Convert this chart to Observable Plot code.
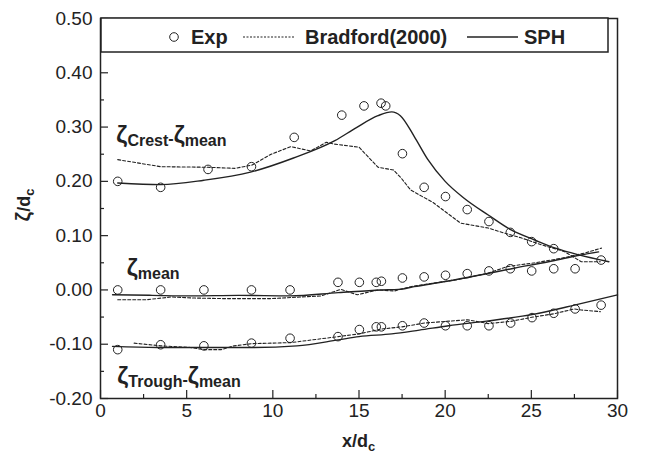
<!DOCTYPE html>
<html><head><meta charset="utf-8">
<script src="https://cdn.jsdelivr.net/npm/d3@7"></script>
<script src="https://cdn.jsdelivr.net/npm/@observablehq/plot@0.6"></script>
<style>body{margin:0;background:#fff}svg{display:block}</style>
</head><body><div id="chart"></div>
<script>
// ---- tick labels ----
const xTicks = [0, 5, 10, 15, 20, 25, 30];
const yTicks = [-0.2, -0.1, 0, 0.1, 0.2, 0.3, 0.4, 0.5];
const xMinor = [2.5, 7.5, 12.5, 17.5, 22.5, 27.5];
const yMinor = [-0.15, -0.05, 0.05, 0.15, 0.25, 0.35, 0.45];

// ---- experiment (circles) ----
const expCrestX = [1.0, 3.49, 6.24, 8.76, 11.24, 14.0, 15.29, 16.28, 16.55, 17.52, 18.78, 20.02, 21.28, 22.54, 23.78, 25.02, 26.3, 29.05];
const expCrestY = [0.200, 0.189, 0.222, 0.227, 0.281, 0.322, 0.339, 0.344, 0.339, 0.251, 0.189, 0.172, 0.148, 0.126, 0.106, 0.089, 0.076, 0.055];
const expMeanX = [1.0, 3.49, 6.0, 8.76, 11.0, 13.78, 15.02, 16.0, 16.3, 17.52, 18.78, 20.02, 21.28, 22.54, 23.78, 25.02, 26.3, 27.54];
const expMeanY = [0.000, 0.000, 0.000, 0.000, 0.000, 0.014, 0.014, 0.014, 0.016, 0.022, 0.024, 0.027, 0.030, 0.035, 0.039, 0.035, 0.039, 0.039];
const expTroughX = [1.0, 3.49, 6.0, 8.76, 11.0, 13.78, 15.02, 16.0, 16.3, 17.52, 18.78, 20.02, 21.28, 22.54, 23.8, 25.04, 26.3, 27.54, 29.05];
const expTroughY = [-0.110, -0.101, -0.103, -0.098, -0.089, -0.086, -0.073, -0.068, -0.068, -0.066, -0.061, -0.066, -0.066, -0.066, -0.061, -0.051, -0.043, -0.035, -0.028];

// ---- SPH (solid) ----
const sphCrestX = [1, 3.5, 6, 8.7, 11.2, 13.6, 14.8, 16.1, 16.9, 17.4, 18.2, 19.0, 20.0, 21.1, 22.5, 23.8, 25.2, 26.4, 27.7, 29.5];
const sphCrestY = [0.197, 0.194, 0.202, 0.217, 0.243, 0.275, 0.298, 0.321, 0.328, 0.321, 0.283, 0.240, 0.200, 0.169, 0.138, 0.111, 0.092, 0.077, 0.065, 0.052];
const sphMeanX = [0.7, 3, 5.2, 8, 11, 13.8, 16.3, 17.3, 18.2, 20.1, 22.1, 24.0, 26.0, 27.5, 28.9];
const sphMeanY = [-0.009, -0.010, -0.011, -0.010, -0.011, -0.005, 0.000, 0.001, 0.006, 0.016, 0.028, 0.040, 0.052, 0.062, 0.070];
const sphTroughX = [0.7, 3.3, 6, 8.7, 11.4, 13.8, 15.0, 16.9, 18.5, 20.2, 22.5, 25.1, 27.5, 30];
const sphTroughY = [-0.104, -0.106, -0.106, -0.106, -0.103, -0.092, -0.086, -0.081, -0.074, -0.066, -0.057, -0.045, -0.028, -0.009];

// ---- Bradford (2000) (dashed) ----
const brCrestX = [1, 3.5, 6.2, 7.8, 8.8, 9.9, 11.05, 12.2, 13.1, 13.5, 15.0, 16.1, 17.0, 17.45, 18.0, 19.3, 20.9, 22.5, 23.4, 24.4, 25.6, 26.9, 27.9, 29.0];
const brCrestY = [0.240, 0.227, 0.226, 0.224, 0.230, 0.250, 0.264, 0.256, 0.272, 0.269, 0.263, 0.226, 0.221, 0.206, 0.184, 0.161, 0.123, 0.114, 0.105, 0.096, 0.083, 0.071, 0.052, 0.052];
const brMeanX = [1, 2.7, 4.1, 5.5, 7.2, 9.9, 12.8, 13.95, 14.9, 16.1, 17.05, 18.0, 20.9, 22.5, 23.6, 25.2, 26.7, 28.1, 29.07];
const brMeanY = [-0.018, -0.018, -0.013, -0.015, -0.016, -0.016, -0.011, 0.001, -0.009, 0.000, -0.002, 0.006, 0.020, 0.031, 0.043, 0.050, 0.058, 0.068, 0.077];
const brTroughX = [1.95, 3.5, 5.2, 6.0, 7.0, 7.75, 8.8, 11.05, 13.8, 15.0, 16.3, 17.5, 18.8, 20.0, 21.3, 22.5, 23.8, 25.1, 26.3, 27.5, 27.9, 29.0];
const brTroughY = [-0.098, -0.103, -0.106, -0.110, -0.110, -0.103, -0.099, -0.097, -0.086, -0.081, -0.072, -0.068, -0.061, -0.058, -0.055, -0.062, -0.058, -0.050, -0.044, -0.035, -0.037, -0.040];

const legendLabels = ["Exp", "Bradford(2000)", "SPH"];

// ---- layout ----
const W = 647, H = 458, mL = 100, mR = 30, mT = 18, mB = 60;
const fw = W - mL - mR, fh = H - mT - mB;
const font = '"Liberation Sans", Arial, Helvetica, sans-serif';
const ink = "#222";

const pts = (xs, ys) => xs.map((x, i) => ({x, y: ys[i]}));
const solid = (xs, ys) => Plot.line(pts(xs, ys), {x: "x", y: "y", stroke: ink, strokeWidth: 1.4, curve: "monotone-x"});
const dashed = (xs, ys) => Plot.line(pts(xs, ys), {x: "x", y: "y", stroke: ink, strokeWidth: 1.1, strokeDasharray: "3,2"});
const dots = (xs, ys) => Plot.dot(pts(xs, ys), {x: "x", y: "y", r: 4.3, stroke: ink, strokeWidth: 1, fill: "none"});

const chart = Plot.plot({
  width: W, height: H, marginLeft: mL, marginRight: mR, marginTop: mT, marginBottom: mB,
  style: {fontFamily: font, background: "#fff", color: ink},
  x: {domain: [0, 30]},
  y: {domain: [-0.2, 0.5]},
  marks: [
    Plot.tickX(xTicks, {x: d => d, insetTop: fh - 8, stroke: ink, strokeWidth: 1.2}),
    Plot.tickX(xMinor, {x: d => d, insetTop: fh - 4, stroke: ink, strokeWidth: 1.2}),
    Plot.tickY(yTicks, {y: d => d, insetRight: fw - 8, stroke: ink, strokeWidth: 1.2}),
    Plot.tickY(yMinor, {y: d => d, insetRight: fw - 4, stroke: ink, strokeWidth: 1.2}),
    Plot.axisX(xTicks, {tickSize: 0, tickPadding: 5, fontSize: 19, label: null, tickFormat: d => String(d), fill: ink}),
    Plot.axisY(yTicks, {tickSize: 0, tickPadding: 8, fontSize: 19, label: null, tickFormat: d => d.toFixed(2), fill: ink}),
    dashed(brCrestX, brCrestY),
    dashed(brMeanX, brMeanY),
    dashed(brTroughX, brTroughY),
    solid(sphCrestX, sphCrestY),
    solid(sphMeanX, sphMeanY),
    solid(sphTroughX, sphTroughY),
    dots(expCrestX, expCrestY),
    dots(expMeanX, expMeanY),
    dots(expTroughX, expTroughY),
    Plot.frame({stroke: ink, strokeWidth: 1.5})
  ]
});
document.getElementById("chart").appendChild(chart);

const svg = d3.select(chart);
const sx = chart.scale("x"), sy = chart.scale("y");

// series annotations
function zetaLabel(px, py, sub) {
  const t = svg.append("text").attr("x", px).attr("y", py).attr("text-anchor", "start")
    .attr("font-family", font).attr("font-weight", "bold").attr("fill", ink);
  t.append("tspan").attr("font-size", 24).text("ζ");
  t.append("tspan").attr("font-size", 16).attr("dy", 3).text(sub);
  if (sub !== "mean") {
    t.append("tspan").attr("font-size", 16).attr("dy", -2).text("-");
    t.append("tspan").attr("font-size", 24).attr("dy", -1).text("ζ");
    t.append("tspan").attr("font-size", 16).attr("dy", 3).text("mean");
  }
}
zetaLabel(sx.apply(0.95), sy.apply(0.269), "Crest");
zetaLabel(sx.apply(1.55), sy.apply(0.024), "mean");
zetaLabel(sx.apply(1.0), sy.apply(-0.175), "Trough");

// axis titles
const xt = svg.append("text").attr("x", mL + fw / 2).attr("y", 447).attr("text-anchor", "middle")
  .attr("font-family", font).attr("font-weight", "bold").attr("font-size", 18).attr("fill", ink);
xt.append("tspan").text("x/d");
xt.append("tspan").attr("font-size", 13).attr("dy", 4).text("c");

const yt = svg.append("text").attr("transform", "translate(30,205) rotate(-90)").attr("text-anchor", "middle")
  .attr("font-family", font).attr("font-weight", "bold").attr("font-size", 18).attr("fill", ink);
yt.append("tspan").attr("font-size", 21).text("ζ");
yt.append("tspan").text("/d");
yt.append("tspan").attr("font-size", 13).attr("dy", 4).text("c");

// legend
const lg = svg.append("g").attr("font-family", font).attr("font-weight", "bold").attr("font-size", 20)
  .attr("fill", ink).attr("text-anchor", "start");
lg.append("rect").attr("x", mL + 1).attr("y", mT).attr("width", 507).attr("height", 34)
  .attr("fill", "#fff").attr("stroke", ink).attr("stroke-width", 1.5);
const ly = mT + 19;
lg.append("circle").attr("cx", 174).attr("cy", ly).attr("r", 4.3).attr("fill", "none").attr("stroke", ink);
lg.append("text").attr("x", 191).attr("y", ly + 7).text(legendLabels[0]);
lg.append("line").attr("x1", 243).attr("x2", 295).attr("y1", ly).attr("y2", ly)
  .attr("stroke", ink).attr("stroke-width", 1.1).attr("stroke-dasharray", "2,1.5");
lg.append("text").attr("x", 305).attr("y", ly + 7).text(legendLabels[1]);
lg.append("line").attr("x1", 467).attr("x2", 518).attr("y1", ly).attr("y2", ly)
  .attr("stroke", ink).attr("stroke-width", 1.3);
lg.append("text").attr("x", 524).attr("y", ly + 7).text(legendLabels[2]);
</script>
</body></html>
